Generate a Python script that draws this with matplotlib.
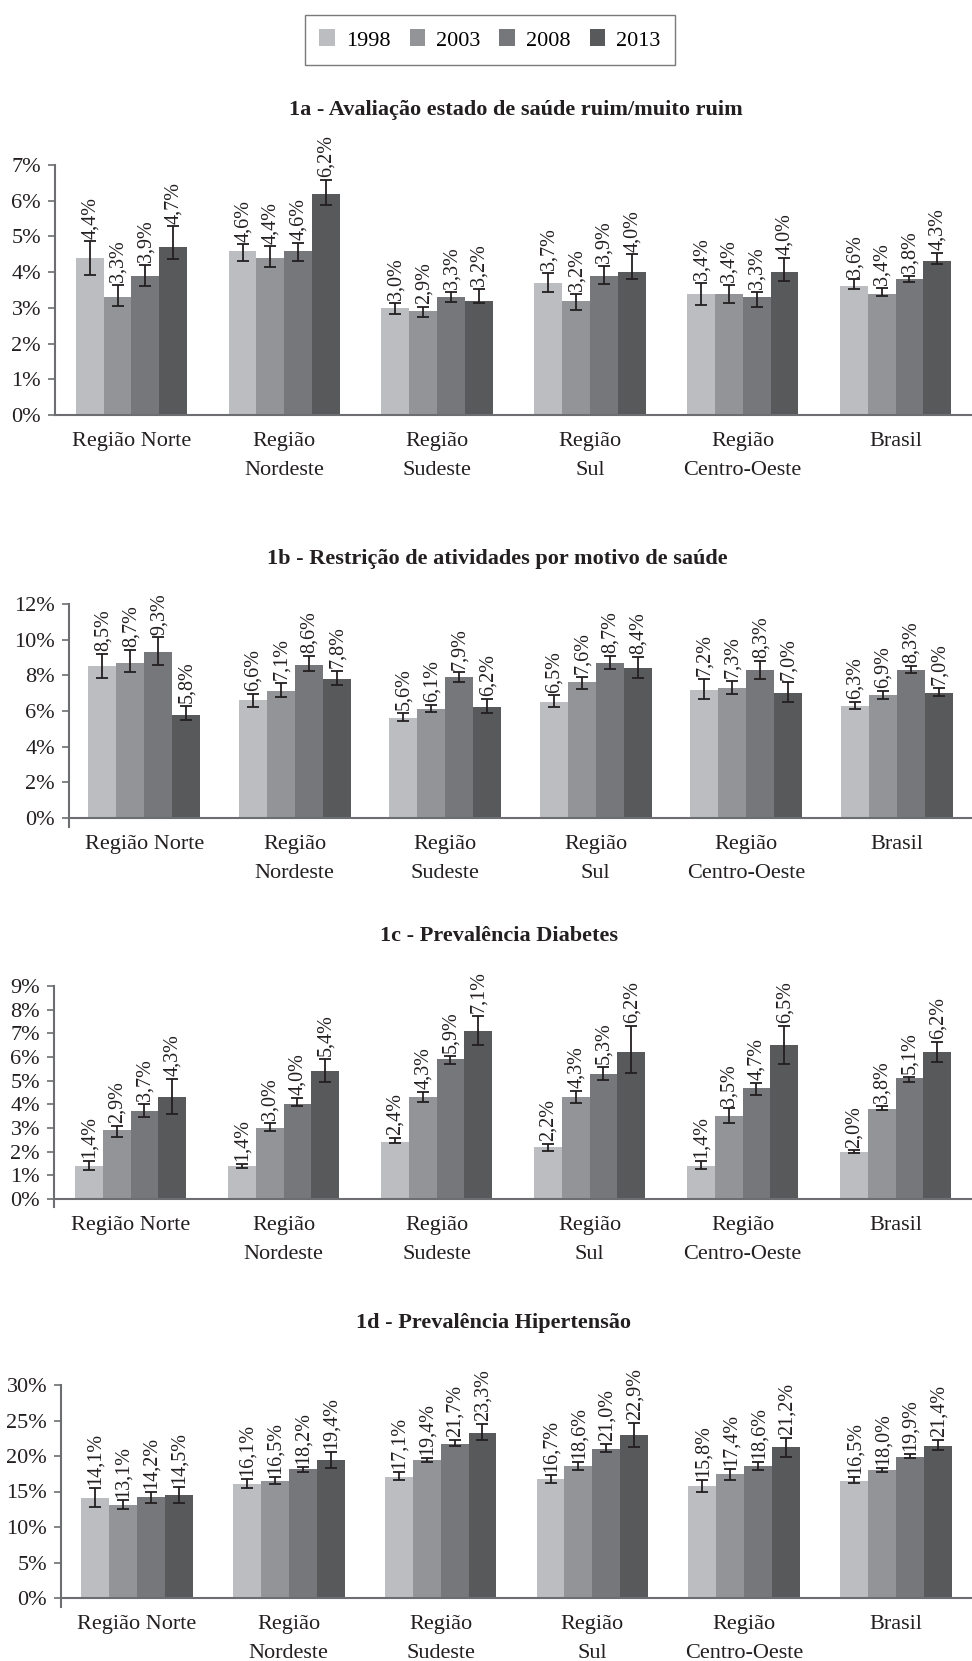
import matplotlib
matplotlib.use("Agg")
import matplotlib.pyplot as plt
from matplotlib.patches import Patch
from matplotlib.ticker import PercentFormatter
import numpy as np

plt.rcParams['font.family'] = ['Liberation Serif', 'DejaVu Serif']

# ---------------------------------------------------------------- data
anos = ['1998', '2003', '2008', '2013']
regioes = ['Região Norte', 'Região\nNordeste', 'Região\nSudeste',
           'Região\nSul', 'Região\nCentro-Oeste', 'Brasil']
cores = ['#bcbdc0', '#939498', '#76777b', '#58595b']

# 1a - self-rated health bad / very bad (%), rows = years, cols = regions
saude_val = [[4.4, 4.6, 3.0, 3.7, 3.4, 3.6],
             [3.3, 4.4, 2.9, 3.2, 3.4, 3.4],
             [3.9, 4.6, 3.3, 3.9, 3.3, 3.8],
             [4.7, 6.2, 3.2, 4.0, 4.0, 4.3]]
saude_inf = [[3.92, 4.31, 2.83, 3.44, 3.08, 3.52],
             [3.05, 4.15, 2.74, 2.94, 3.13, 3.33],
             [3.61, 4.31, 3.17, 3.67, 3.03, 3.72],
             [4.37, 5.88, 3.13, 3.81, 3.75, 4.22]]
saude_sup = [[4.86, 4.78, 3.13, 3.99, 3.71, 3.80],
             [3.64, 4.72, 3.02, 3.39, 3.64, 3.55],
             [4.20, 4.81, 3.45, 4.18, 3.44, 3.90],
             [5.28, 6.58, 3.53, 4.50, 4.41, 4.53]]

# 1b - activity restriction for health reasons (%)
restr_val = [[8.5, 6.6, 5.6, 6.5, 7.2, 6.3],
             [8.7, 7.1, 6.1, 7.6, 7.3, 6.9],
             [9.3, 8.6, 7.9, 8.7, 8.3, 8.3],
             [5.8, 7.8, 6.2, 8.4, 7.0, 7.0]]
restr_inf = [[7.84, 6.23, 5.46, 6.23, 6.68, 6.11],
             [8.18, 6.79, 5.93, 7.24, 6.96, 6.68],
             [8.59, 8.25, 7.61, 8.38, 7.80, 8.14],
             [5.49, 7.46, 5.87, 7.84, 6.49, 6.84]]
restr_sup = [[9.21, 6.98, 5.91, 6.88, 7.82, 6.51],
             [9.41, 7.59, 6.36, 7.93, 7.69, 7.11],
             [10.13, 9.08, 8.16, 9.11, 8.79, 8.55],
             [6.30, 8.25, 6.66, 9.04, 7.61, 7.28]]

# 1c - diabetes prevalence (%)
diab_val = [[1.4, 1.4, 2.4, 2.2, 1.4, 2.0],
            [2.9, 3.0, 4.3, 4.3, 3.5, 3.8],
            [3.7, 4.0, 5.9, 5.3, 4.7, 5.1],
            [4.3, 5.4, 7.1, 6.2, 6.5, 6.2]]
diab_inf = [[1.24, 1.32, 2.36, 2.04, 1.26, 1.94],
            [2.63, 2.87, 4.09, 4.07, 3.20, 3.74],
            [3.46, 3.93, 5.70, 5.03, 4.40, 4.94],
            [3.60, 4.93, 6.52, 5.31, 5.69, 5.79]]
diab_sup = [[1.60, 1.49, 2.57, 2.33, 1.60, 2.05],
            [3.10, 3.20, 4.51, 4.56, 3.83, 3.93],
            [4.02, 4.27, 6.05, 5.58, 4.90, 5.17],
            [5.07, 5.93, 7.74, 7.32, 7.30, 6.64]]

# 1d - hypertension prevalence (%)
hiper_val = [[14.1, 16.1, 17.1, 16.7, 15.8, 16.5],
             [13.1, 16.5, 19.4, 18.6, 17.4, 18.0],
             [14.2, 18.2, 21.7, 21.0, 18.6, 19.9],
             [14.5, 19.4, 23.3, 22.9, 21.2, 21.4]]
hiper_inf = [[12.75, 15.47, 16.55, 16.17, 14.91, 16.13],
             [12.52, 16.03, 19.17, 18.05, 16.69, 17.72],
             [13.41, 17.77, 21.42, 20.53, 18.05, 19.69],
             [13.36, 18.28, 22.27, 21.33, 19.92, 20.86]]
hiper_sup = [[15.47, 16.74, 17.81, 17.39, 16.64, 17.02],
             [13.74, 17.11, 19.78, 19.22, 18.14, 18.38],
             [15.00, 18.52, 22.27, 21.66, 19.13, 20.30],
             [15.70, 20.53, 24.52, 24.61, 22.60, 22.27]]

titulos = ['1a - Avaliação estado de saúde ruim/muito ruim',
           '1b - Restrição de atividades por motivo de saúde',
           '1c - Prevalência Diabetes',
           '1d - Prevalência Hipertensão']

# ---------------------------------------------------------------- layout
W, H = 972, 1661
fig = plt.figure(figsize=(W / 100, H / 100), dpi=100)

# (left px, top px, zero-line px, spine bottom px, ymax, step, bar width, title x px, title y px)
paineis = [
    (55, 165, 415, 415, 7, 1, 0.182, 516, 110),
    (69, 604, 818, 827, 12, 2, 0.186, 497, 559),
    (54, 986, 1199, 1207, 9, 1, 0.182, 499, 936),
    (61, 1385, 1598, 1607, 30, 5, 0.184, 494, 1323),
]
dados = [(saude_val, saude_inf, saude_sup),
         (restr_val, restr_inf, restr_sup),
         (diab_val, diab_inf, diab_sup),
         (hiper_val, hiper_inf, hiper_sup)]

eixo_cor = '#6d6e71'
erro_cor = '#231f20'
texto_cor = '#231f20'
x = np.arange(len(regioes))

for (left, top, zero, base, ymax, step, bw, tx, ty), (vals, inf, sup), titulo in zip(paineis, dados, titulos):
    ax = fig.add_axes([left / W, (H - base) / H, (W - left) / W, (base - top) / H])
    # x axis line sits on zero; the y spine may run a little below it
    ax.spines['bottom'].set_position(('data', 0))
    ymin = -(base - zero) / (zero - top) * ymax
    for j, ano in enumerate(anos):
        v = np.array(vals[j])
        lo = np.array(inf[j])
        hi = np.array(sup[j])
        xs = x + (j - 1.5) * bw
        ax.bar(xs, v, width=bw, color=cores[j], linewidth=0, zorder=2)
        ax.errorbar(xs, v, yerr=[v - lo, hi - v], fmt='none', ecolor=erro_cor,
                    elinewidth=1.3, capsize=4.5, capthick=1.3, zorder=3)
        for xi, vi, hii in zip(xs, v, hi):
            ax.annotate(f'{vi:.1f}'.replace('.', ',') + '%', (xi, hii),
                        xytext=(0.5, 2), textcoords='offset points',
                        rotation=90, ha='center', va='bottom', fontsize=14.5,
                        color=texto_cor)
    ax.set_xlim(-0.5, len(regioes) - 0.5)
    ax.set_ylim(ymin, ymax)
    ax.set_yticks(np.arange(0, ymax + step / 2, step))
    ax.yaxis.set_major_formatter(PercentFormatter(xmax=100, decimals=0))
    ax.tick_params(axis='y', length=5, width=1.2, color=eixo_cor, pad=5,
                   labelsize=16, labelcolor=texto_cor)
    ax.tick_params(axis='x', length=0, pad=12, labelsize=16, labelcolor=texto_cor)
    ax.set_xticks(x)
    ax.set_xticklabels(regioes, linespacing=1.72)
    for s in ('top', 'right'):
        ax.spines[s].set_visible(False)
    for s in ('left', 'bottom'):
        ax.spines[s].set_color(eixo_cor)
        ax.spines[s].set_linewidth(1.5)
    ax.set_facecolor('none')
    fig.text(tx / W, 1 - ty / H, titulo, ha='center', va='center',
             fontsize=16, fontweight='bold', color=texto_cor)

handles = [Patch(facecolor=c, edgecolor='none') for c in cores]
leg = fig.legend(handles, anos, loc='upper center', bbox_to_anchor=(490 / W, 1 - 15 / H),
                 borderaxespad=0, ncol=4, frameon=True, fancybox=False,
                 edgecolor='#58595b', handlelength=0.7, handleheight=0.8,
                 handletextpad=0.5, columnspacing=0.85, borderpad=0.65, fontsize=16)
leg.get_frame().set_linewidth(1.0)

fig.savefig('out.png', dpi=100, facecolor='white')
